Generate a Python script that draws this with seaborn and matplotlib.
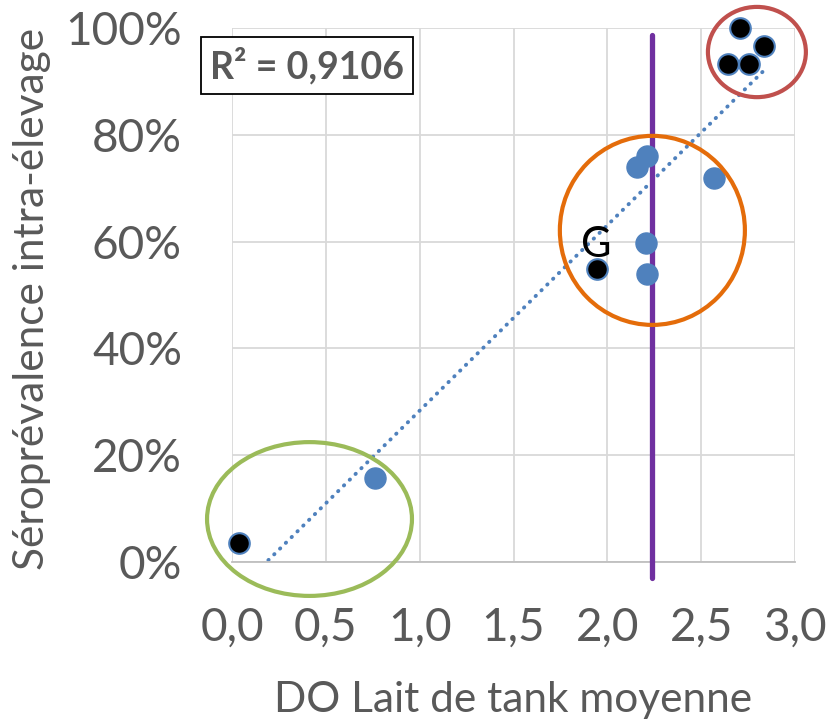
import numpy as np
import pandas as pd
import seaborn as sns
import matplotlib.pyplot as plt
from matplotlib.patches import Ellipse

# valeurs
blue_x = [0.762, 2.211, 2.158, 2.568, 2.206, 2.211]
blue_y = [0.157, 0.760, 0.740, 0.719, 0.597, 0.539]
black_x = [0.039, 1.945, 2.706, 2.834, 2.643, 2.754]
black_y = [0.035, 0.549, 1.000, 0.966, 0.933, 0.933]
seuil = 2.24
x_ticks = [0.0, 0.5, 1.0, 1.5, 2.0, 2.5, 3.0]
y_ticks = [0.0, 0.2, 0.4, 0.6, 0.8, 1.0]

df = pd.DataFrame({'DO': blue_x + black_x, 'sero': blue_y + black_y})

sns.set_style('white')
plt.rcParams['font.family'] = ['Lato', 'DejaVu Sans']
grey = '#595959'

fig = plt.figure(figsize=(8.33, 7.24), dpi=100)
ax = fig.add_axes([232 / 833, 1 - 562 / 724, (795 - 232) / 833, (562 - 28) / 724])

# courbe de tendance
sns.regplot(x='DO', y='sero', data=df, ax=ax, scatter=False, ci=None,
            line_kws=dict(color='#4F81BD', lw=2.8, linestyle=(0, (0.1, 2.0)),
                          dash_capstyle='round'))

sns.scatterplot(x=blue_x, y=blue_y, ax=ax, color='#4F81BD', edgecolor='#4F81BD',
                s=230, linewidth=1, zorder=5, clip_on=False)
sns.scatterplot(x=black_x, y=black_y, ax=ax, color='black', edgecolor='#4F81BD',
                s=220, linewidth=1.5, zorder=6, clip_on=False)

ax.set_xlim(0, 3)
ax.set_ylim(0, 1)
ax.set_xticks(x_ticks)
ax.set_yticks(y_ticks)
ax.set_xticklabels([f'{v:.1f}'.replace('.', ',') for v in x_ticks])
ax.set_yticklabels([f'{v:.0%}' for v in y_ticks])
ax.tick_params(length=0, labelsize=33, labelcolor=grey)
ax.tick_params(axis='y', pad=36)
ax.tick_params(axis='x', pad=32)
ax.grid(True, color='#D9D9D9', lw=1.3)
for side in ['top', 'right', 'left']:
    ax.spines[side].set_visible(False)
ax.spines['bottom'].set_color('#BFBFBF')
ax.spines['bottom'].set_linewidth(1.3)

ax.set_xlabel('DO Lait de tank moyenne', fontsize=30.5, color=grey)
ax.set_ylabel('Séroprévalence intra-élevage', fontsize=30.5, color=grey)
ax.xaxis.set_label_coords(0.5, -0.222)
ax.yaxis.set_label_coords(-0.322, 0.492)

# ligne verticale du seuil
ax.plot([seuil, seuil], [-0.03, 0.987], color='#7030A0', lw=3.8, zorder=4, clip_on=False)

# ellipses des groupes
ax.add_patch(Ellipse((0.413, 0.0805), 1.092, 0.288, fill=False, ec='#9BBB59', lw=3, clip_on=False, zorder=7))
ax.add_patch(Ellipse((2.240, 0.621), 0.986, 0.354, fill=False, ec='#E46C0A', lw=3, clip_on=False, zorder=7))
ax.add_patch(Ellipse((2.797, 0.955), 0.522, 0.169, fill=False, ec='#C0504D', lw=3, clip_on=False, zorder=7))

ax.text(1.94, 0.593, 'G', fontsize=30, color='black', ha='center', va='center', zorder=8)

ax.text(0.40, 0.930, 'R² = 0,9106', fontsize=27, fontweight='bold', color=grey,
        ha='center', va='center', zorder=8,
        bbox=dict(boxstyle='square,pad=0.25', fc='white', ec='black', lw=1.3))

fig.savefig('out.png', dpi=100)
